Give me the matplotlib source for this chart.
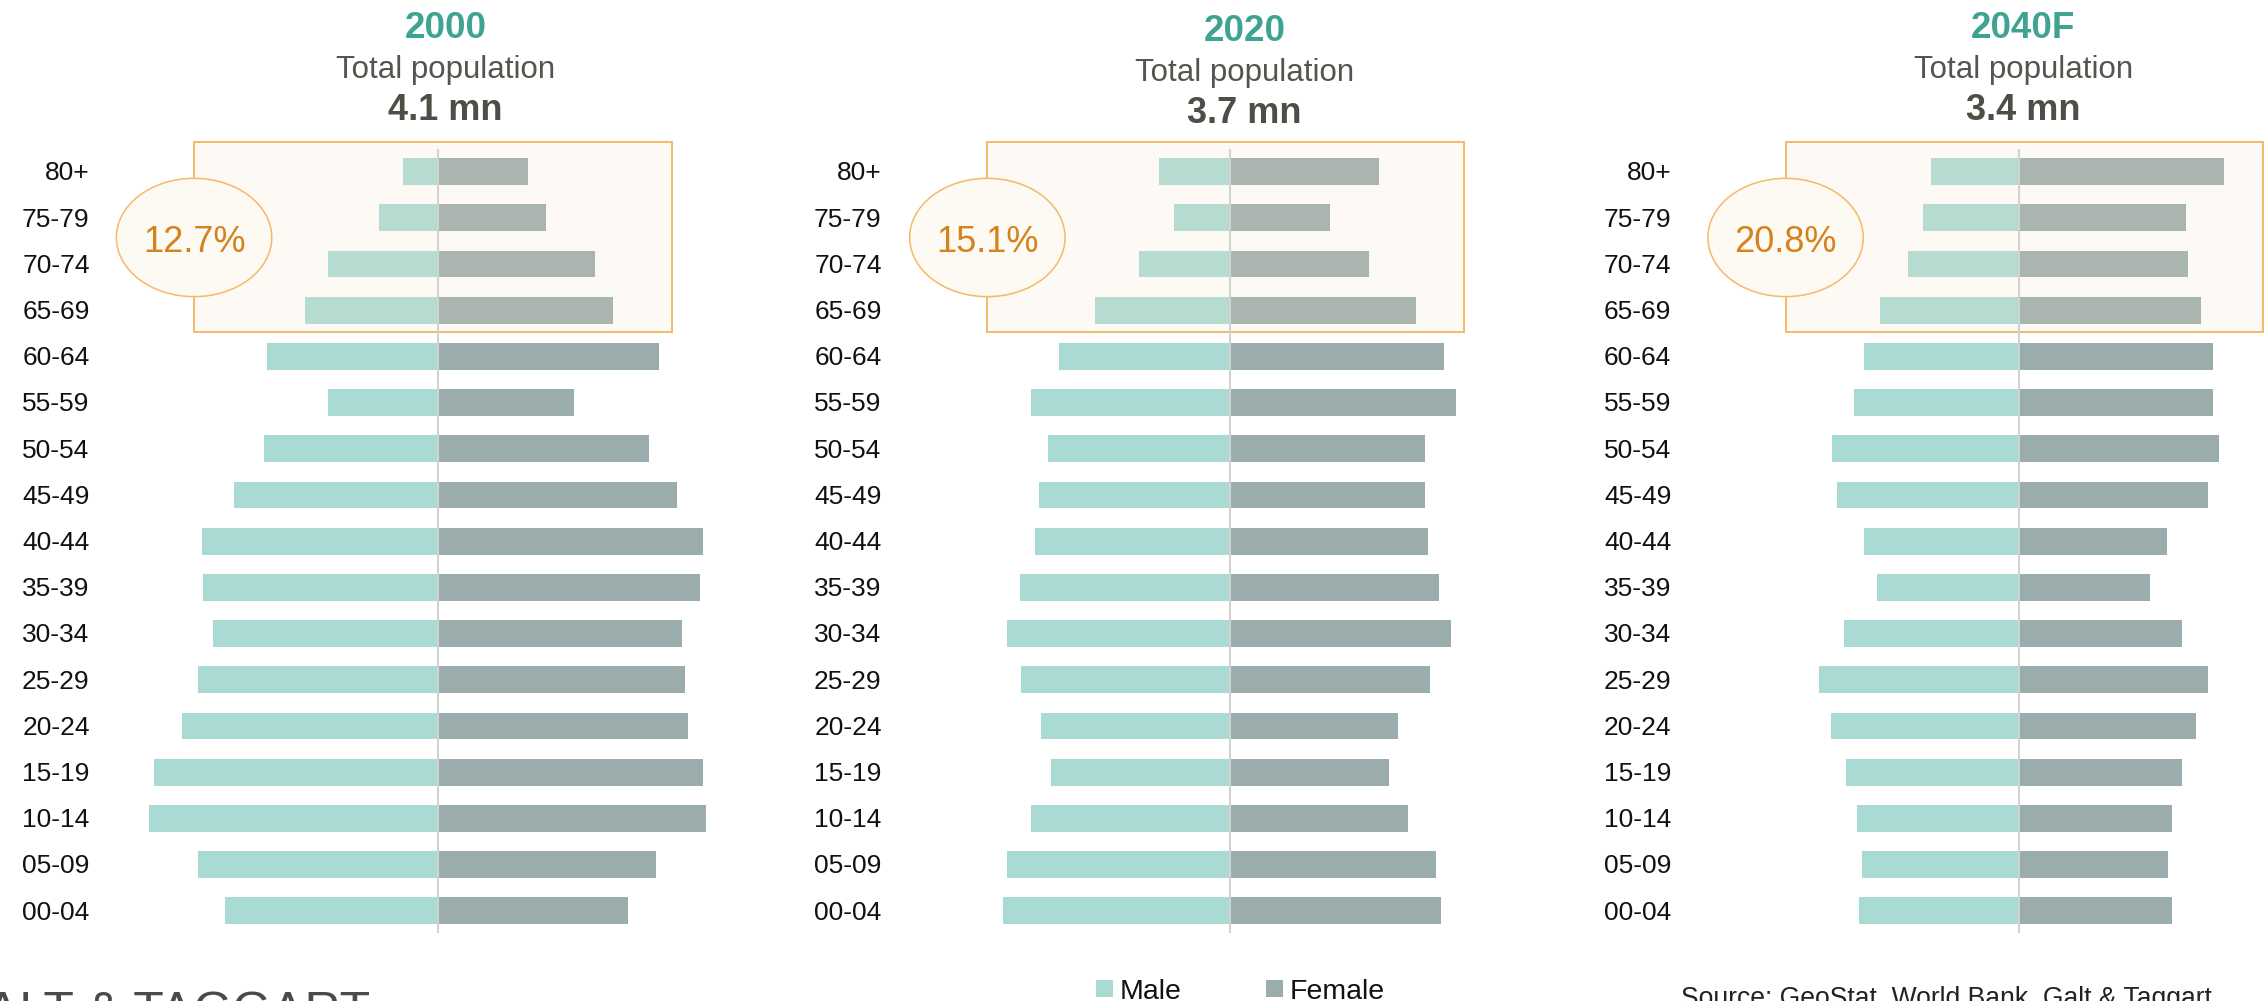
import matplotlib.pyplot as plt
from matplotlib.patches import Rectangle, Ellipse

plt.rcParams['font.family'] = ['Liberation Sans', 'DejaVu Sans']

W, H = 2267, 1001

ages = ['80+', '75-79', '70-74', '65-69', '60-64', '55-59', '50-54', '45-49', '40-44',
        '35-39', '30-34', '25-29', '20-24', '15-19', '10-14', '05-09', '00-04']

# population by age group, thousands
male_2000 = [21, 36, 67, 81, 104, 67, 106, 124, 144, 143, 137, 146, 156, 173, 176, 146, 130]
female_2000 = [55, 66, 96, 107, 135, 83, 129, 146, 162, 160, 149, 151, 153, 162, 164, 133, 116]
male_2020 = [43, 34, 55, 82, 104, 121, 111, 116, 119, 128, 136, 127, 115, 109, 121, 136, 138]
female_2020 = [91, 61, 85, 114, 131, 138, 119, 119, 121, 128, 135, 122, 103, 97, 109, 126, 129]
male_2040 = [54, 59, 68, 85, 95, 101, 114, 111, 95, 87, 107, 122, 115, 106, 99, 96, 98]
female_2040 = [125, 102, 103, 111, 118, 118, 122, 115, 90, 80, 99, 115, 108, 99, 93, 91, 93]

years = ['2000', '2020', '2040F']
totals = ['4.1 mn', '3.7 mn', '3.4 mn']
share_65 = ['12.7%', '15.1%', '20.8%']

MALE = '#A9DBD4'
FEMALE = '#9AACAB'
TEAL = '#3FA393'
ORANGE = '#F5B968'
PCT = '#D4821C'
GREY_TXT = '#4E4E47'

PX_PER_K = 1.639
ROW0, ROW_STEP = 171.7, 46.19


def fx(px):
    return px / W


def fy(py):
    return 1 - py / H


def row(py):
    return (py - ROW0) / ROW_STEP


def draw_panel(fig, cx, male, female, box_x, title_dx, title_dy, year, total, pct):
    left_px, right_px = cx - 377, cx + 300
    top_px, bot_px = 120, 950
    ax = fig.add_axes([fx(left_px), fy(bot_px), (right_px - left_px) / W, (bot_px - top_px) / H])
    ax.set_xlim(-377 / PX_PER_K, 300 / PX_PER_K)
    ax.set_ylim(row(bot_px), row(top_px))
    ax.axis('off')

    y = list(range(len(ages)))
    ax.barh(y, [-m for m in male], height=0.58, color=MALE, zorder=2)
    ax.barh(y, female, height=0.58, color=FEMALE, zorder=2)

    for i, lab in enumerate(ages):
        ax.text(-212.3, i + 0.19, lab, ha='right', va='baseline', fontsize=19,
                color='#111111', clip_on=False)

    # 65+ highlight
    b_top, b_bot = row(142.3), row(332.3)
    ax.add_patch(Rectangle((box_x[0], b_top), box_x[1] - box_x[0], b_bot - b_top,
                           facecolor='#F4DEC2', alpha=0.18, edgecolor='none', zorder=3))
    ax.add_patch(Rectangle((box_x[0], b_top), box_x[1] - box_x[0], b_bot - b_top,
                           facecolor='none', edgecolor=ORANGE, lw=1.4, zorder=3))
    ax.plot([0, 0], [row(149.3), row(933.3)], color='#D2D2D2', lw=1.5, zorder=4,
            solid_capstyle='butt')
    ax.add_patch(Ellipse((box_x[0], row(237.5)), 155.4 / PX_PER_K, 118.3 / ROW_STEP,
                         facecolor='#FDF9F3', edgecolor=ORANGE, lw=1.1, zorder=5))
    ax.text(box_x[0], row(251.7), pct, ha='center', va='baseline', fontsize=26,
            color=PCT, zorder=6)

    tx = cx + title_dx
    fig.text(fx(tx), fy(37 + title_dy), year, ha='center', va='baseline',
             fontsize=26.5, fontweight='bold', color=TEAL)
    fig.text(fx(tx), fy(77 + title_dy), 'Total population', ha='center', va='baseline',
             fontsize=22.5, color='#55554F')
    fig.text(fx(tx), fy(119 + title_dy), total, ha='center', va='baseline',
             fontsize=26, fontweight='bold', color=GREY_TXT)


fig = plt.figure(figsize=(W / 100, H / 100), dpi=100)

draw_panel(fig, 437.6, male_2000, female_2000, (-148.6, 142.8), 8, 1,
           years[0], totals[0], share_65[0])
draw_panel(fig, 1229.6, male_2020, female_2020, (-147.8, 143.1), 15, 4,
           years[1], totals[1], share_65[1])
draw_panel(fig, 2019.3, male_2040, female_2040, (-142.6, 148.6), 4, 1,
           years[2], totals[2], share_65[2])

# legend
for x0, lab, col in [(1095.7, 'Male', MALE), (1265.7, 'Female', FEMALE)]:
    fig.patches.append(Rectangle((fx(x0), fy(997.3)), 17.6 / W, 17.3 / H,
                                 transform=fig.transFigure, facecolor=col, edgecolor='none'))
    fig.text(fx(x0 + 23.5), fy(999.4), lab, ha='left', va='baseline', fontsize=20.5,
             color='#111111')

fig.text(fx(1681), fy(1005.7), 'Source: GeoStat, World Bank, Galt & Taggart', ha='left',
         va='baseline', fontsize=19.1, color='#222222')
fig.text(fx(370), fy(991), 'GALT & TAGGART', ha='right', va='top', fontsize=36,
         color='#4A4A4A')

fig.savefig('out.png', dpi=100)
